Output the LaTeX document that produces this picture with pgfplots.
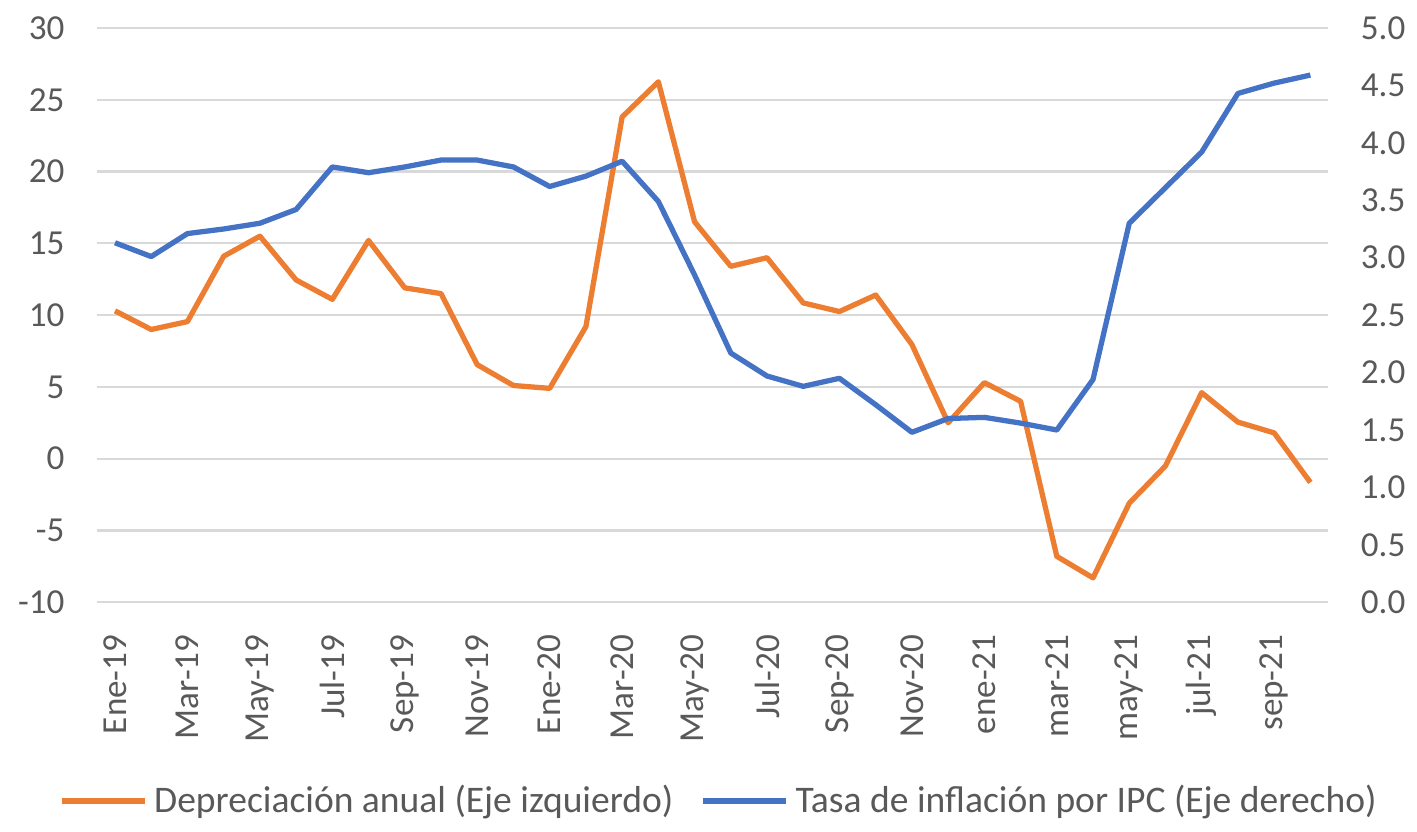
\documentclass[border=0pt]{standalone}
\usepackage{pgfplots}
\pgfplotsset{compat=1.18}
\usepackage{fontspec}
\setmainfont{Carlito}

\definecolor{naranja}{HTML}{ED7D31}
\definecolor{azul}{HTML}{4472C4}
\definecolor{rejilla}{HTML}{D9D9D9}
\definecolor{texto}{HTML}{595959}

\begin{document}
\fontsize{10}{12}\selectfont
\begin{tikzpicture}
\pgfplotsset{
  base/.style={
    width=12.33cm, height=5.75cm, scale only axis,
    xmin=-0.5, xmax=33.5,
    axis line style={draw=none},
    major tick length=0pt,
    tick label style={font=\fontsize{10}{12}\selectfont, text=texto},
    /pgf/number format/assume math mode=true,
  },
}
% eje izquierdo: depreciacion anual
\begin{axis}[base, name=izq,
  ymin=-10, ymax=30, ytick={-10,-5,0,5,10,15,20,25,30},
  yticklabel pos=left, yticklabel shift=0.2cm,
  ymajorgrids, major grid style={rejilla, line width=0.6pt},
  xtick={0,2,...,32},
  xticklabels={Ene-19,Mar-19,May-19,Jul-19,Sep-19,Nov-19,Ene-20,Mar-20,May-20,Jul-20,Sep-20,Nov-20,ene-21,mar-21,may-21,jul-21,sep-21},
  xticklabel style={rotate=90, anchor=east}, xticklabel shift=0.2cm,
  legend style={at={(0.507,-0.346)}, anchor=center, draw=none, fill=none,
    legend columns=2, font=\fontsize{10.7}{12}\selectfont, text=texto,
    /tikz/every even column/.append style={column sep=0.2cm}},
  legend image code/.code={\draw[#1] (0cm,0cm) -- (0.83cm,0cm);},
]
\addplot[naranja, line width=1.5pt, line join=round] coordinates {
  (0,10.3) (1,9.0) (2,9.55) (3,14.1) (4,15.5) (5,12.45) (6,11.1) (7,15.2)
  (8,11.9) (9,11.5) (10,6.55) (11,5.1) (12,4.9) (13,9.2) (14,23.8) (15,26.25)
  (16,16.5) (17,13.4) (18,14.0) (19,10.85) (20,10.25) (21,11.4) (22,7.95) (23,2.5)
  (24,5.3) (25,4.0) (26,-6.8) (27,-8.3) (28,-3.1) (29,-0.5) (30,4.6) (31,2.55)
  (32,1.8) (33,-1.65)
};
\addlegendentry{Depreciación anual (Eje izquierdo)}
\addlegendimage{azul, line width=1.5pt}
\addlegendentry{Tasa de inflación por IPC (Eje derecho)}
\end{axis}

% eje derecho: inflacion
\begin{axis}[base,
  ymin=0, ymax=5, ytick={0,0.5,1,1.5,2,2.5,3,3.5,4,4.5,5},
  yticklabel pos=right, yticklabel shift=0.2cm,
  yticklabel style={/pgf/number format/.cd, fixed, fixed zerofill, precision=1},
  xtick=\empty,
]
\addplot[azul, line width=1.5pt, line join=round] coordinates {
  (0,3.13) (1,3.01) (2,3.21) (3,3.25) (4,3.30) (5,3.42) (6,3.79) (7,3.74)
  (8,3.79) (9,3.85) (10,3.85) (11,3.79) (12,3.62) (13,3.71) (14,3.84) (15,3.49)
  (16,2.85) (17,2.17) (18,1.97) (19,1.88) (20,1.95) (21,1.72) (22,1.48) (23,1.60)
  (24,1.61) (25,1.56) (26,1.50) (27,1.94) (28,3.30) (29,3.61) (30,3.92) (31,4.43)
  (32,4.52) (33,4.59)
};
\end{axis}

\path[use as bounding box] ([shift={(-0.97cm,-2.13cm)}]izq.south west) rectangle ([shift={(0.87cm,0.28cm)}]izq.north east);
\end{tikzpicture}
\end{document}
